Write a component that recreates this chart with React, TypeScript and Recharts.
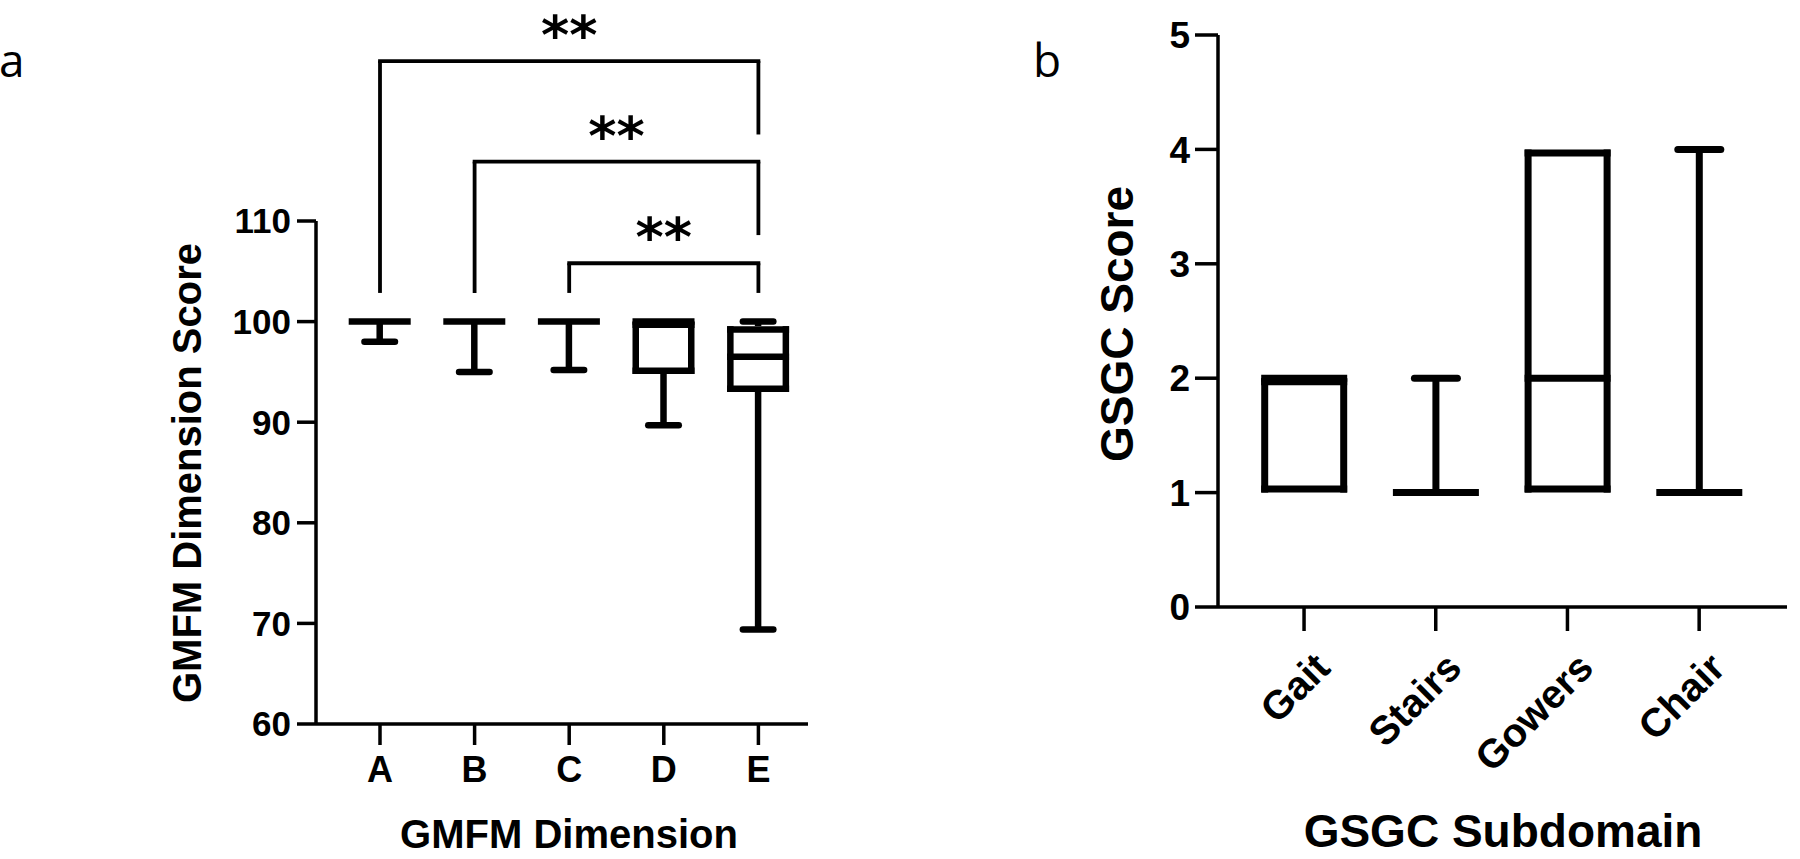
import React from 'react';
import { ComposedChart, Bar, XAxis, YAxis, ReferenceLine } from 'recharts';

// ---------- Panel a data (GMFM) ----------
const gmfmCategories = ['A', 'B', 'C', 'D', 'E'];
const gmfmMin = [98.0, 95.0, 95.2, 89.7, 69.4];
const gmfmQ1 = [100, 100, 100, 94.8, 93.0];
const gmfmMedian = [100, 100, 100, 100, 96.5];
const gmfmQ3 = [100, 100, 100, 100, 99.55];
const gmfmMax = [100, 100, 100, 100, 100];
const gmfmTicks = [60, 70, 80, 90, 100, 110];

// significance brackets (values in axis units)
const bracketFrom = ['A', 'B', 'C'];
const bracketTo = ['E', 'E', 'E'];
const bracketTop = [125.9, 115.9, 105.8];
const bracketLeftEnd = [102.85, 102.85, 102.85];
const bracketRightEnd = [118.6, 108.6, 102.85];
const bracketLabels = ['**', '**', '**'];

// ---------- Panel b data (GSGC) ----------
const gsgcCategories = ['Gait', 'Stairs', 'Gowers', 'Chair'];
const gsgcMin = [1, 1, 1, 1];
const gsgcQ1 = [1, 1, 1, 1];
const gsgcMedian = [2, 1, 2, 1];
const gsgcQ3 = [2, 1, 4, 1];
const gsgcMax = [2, 2, 4, 4];
const gsgcTicks = [0, 1, 2, 3, 4, 5];

function buildRows(cats: string[], min: number[], q1: number[], med: number[], q3: number[], max: number[]) {
  return cats.map((name, i) => ({
    name,
    min: min[i],
    q1: q1[i],
    median: med[i],
    q3: q3[i],
    max: max[i],
    base: min[i],
    lowWhisker: q1[i] - min[i],
    lowBox: med[i] - q1[i],
    highBox: q3[i] - med[i],
    highWhisker: max[i] - q3[i],
  }));
}

const gmfmRows = buildRows(gmfmCategories, gmfmMin, gmfmQ1, gmfmMedian, gmfmQ3, gmfmMax);
const gsgcRows = buildRows(gsgcCategories, gsgcMin, gsgcQ1, gsgcMedian, gsgcQ3, gsgcMax);

const FONT = "'Liberation Sans', Arial, Helvetica, sans-serif";

function norm(p: any) {
  const top = Math.min(p.y, p.y + p.height);
  const h = Math.abs(p.height || 0);
  const d = p.payload ?? p;
  return { x: p.x, w: p.width, top, h, d };
}

function makeBoxShapes(sw: number, capOuter: number) {
  const capHalf = (capOuter - sw) / 2;
  const common = { stroke: '#000', strokeWidth: sw, fill: 'none' };
  const empty = () => <g />;
  const lowWhisker = (p: any) => {
    const { x, w, top, h } = norm(p);
    if (!(h > 0)) return <g />;
    const cx = x + w / 2;
    const yb = top + h;
    return (
      <g>
        <line x1={cx} x2={cx} y1={top} y2={yb} {...common} />
        <line x1={cx - capHalf} x2={cx + capHalf} y1={yb} y2={yb} {...common} strokeLinecap="round" />
      </g>
    );
  };
  const highWhisker = (p: any) => {
    const { x, w, top, h } = norm(p);
    if (!(h > 0)) return <g />;
    const cx = x + w / 2;
    return (
      <g>
        <line x1={cx} x2={cx} y1={top} y2={top + h} {...common} />
        <line x1={cx - capHalf} x2={cx + capHalf} y1={top} y2={top} {...common} strokeLinecap="round" />
      </g>
    );
  };
  const lowBox = (p: any) => {
    const { x, w, top, h, d } = norm(p);
    if (d.q3 === d.q1) {
      return <line x1={x} x2={x + w} y1={top} y2={top} {...common} />;
    }
    const xl = x + sw / 2;
    const xr = x + w - sw / 2;
    return (
      <g>
        {h > 0 && <line x1={xl} x2={xl} y1={top} y2={top + h} {...common} />}
        {h > 0 && <line x1={xr} x2={xr} y1={top} y2={top + h} {...common} />}
        <line x1={x} x2={x + w} y1={top + h - sw / 2} y2={top + h - sw / 2} {...common} />
        <line x1={x} x2={x + w} y1={top} y2={top} {...common} />
      </g>
    );
  };
  const highBox = (p: any) => {
    const { x, w, top, h, d } = norm(p);
    if (d.q3 === d.q1) return <g />;
    const xl = x + sw / 2;
    const xr = x + w - sw / 2;
    return (
      <g>
        {h > 0 && <line x1={xl} x2={xl} y1={top} y2={top + h} {...common} />}
        {h > 0 && <line x1={xr} x2={xr} y1={top} y2={top + h} {...common} />}
        <line x1={x} x2={x + w} y1={top + sw / 2} y2={top + sw / 2} {...common} />
      </g>
    );
  };
  return { empty, lowWhisker, lowBox, highBox, highWhisker };
}

const shapesA = makeBoxShapes(6.5, 37);
const shapesB = makeBoxShapes(7, 50);

const asteriskLabel = (text: string) => (props: any) => {
  const vb = props.viewBox || {};
  const cx = vb.width != null ? vb.x + vb.width / 2 : ((vb.x1 ?? 0) + (vb.x2 ?? 0)) / 2;
  const yy = vb.y != null ? vb.y : vb.y1;
  return (
    <text x={cx} y={yy - 7} textAnchor="middle" fontFamily="'DejaVu Sans', sans-serif" fontWeight="bold" fontSize={54} fill="#000">
      {text}
    </text>
  );
};

const AngledTick = (props: any) => {
  const { x, y, payload } = props;
  const ax = x + 8;
  return (
    <text
      x={ax}
      y={y}
      transform={`rotate(-45, ${ax}, ${y})`}
      textAnchor="end"
      dy="0.71em"
      fontFamily={FONT}
      fontWeight="bold"
      fontSize={40}
      fill="#000"
    >
      {payload.value}
    </text>
  );
};

const axisStroke = { stroke: '#000', strokeWidth: 3.5 };

function renderBoxBars(shapes: any) {
  return [
    <Bar key="base" dataKey="base" stackId="box" isAnimationActive={false} shape={shapes.empty} />,
    <Bar key="lw" dataKey="lowWhisker" stackId="box" isAnimationActive={false} shape={shapes.lowWhisker} />,
    <Bar key="lb" dataKey="lowBox" stackId="box" isAnimationActive={false} shape={shapes.lowBox} />,
    <Bar key="hb" dataKey="highBox" stackId="box" isAnimationActive={false} shape={shapes.highBox} />,
    <Bar key="hw" dataKey="highWhisker" stackId="box" isAnimationActive={false} shape={shapes.highWhisker} />,
  ];
}

export default function App() {
  return (
    <div style={{ position: 'absolute', left: 0, top: 0, width: 1800, height: 859, background: '#fff', overflow: 'hidden' }}>
      {/* Panel a */}
      <div style={{ position: 'absolute', left: 0, top: 0 }}>
        <ComposedChart
          width={830}
          height={859}
          data={gmfmRows}
          margin={{ top: 221, right: 22, bottom: 0, left: 0 }}
          barSize={62}
          style={{ overflow: 'visible' }}
        >
          <XAxis
            dataKey="name"
            type="category"
            height={135}
            padding={{ left: 16.7, right: 2.3 }}
            axisLine={axisStroke}
            tickLine={axisStroke}
            tickSize={21}
            tickMargin={11}
            tick={{ fill: '#000', fontSize: 36, fontWeight: 700, fontFamily: FONT }}
            interval={0}
          />
          <YAxis
            type="number"
            width={316}
            domain={[60, 110]}
            ticks={gmfmTicks}
            allowDataOverflow
            axisLine={axisStroke}
            tickLine={axisStroke}
            tickSize={19}
            tickMargin={6}
            tick={{ fill: '#000', fontSize: 35, fontWeight: 700, fontFamily: FONT }}
            interval={0}
          />
          {renderBoxBars(shapesA)}
          {bracketFrom.map((from, i) => (
            <ReferenceLine
              key={`bh${i}`}
              segment={[{ x: from, y: bracketTop[i] }, { x: bracketTo[i], y: bracketTop[i] }]}
              ifOverflow="visible"
              stroke="#000"
              strokeWidth={3.8}
              strokeLinecap="square"
              label={asteriskLabel(bracketLabels[i])}
            />
          ))}
          {bracketFrom.map((from, i) => (
            <ReferenceLine
              key={`bl${i}`}
              segment={[{ x: from, y: bracketTop[i] }, { x: from, y: bracketLeftEnd[i] }]}
              ifOverflow="visible"
              stroke="#000"
              strokeWidth={3.8}
            />
          ))}
          {bracketTo.map((to, i) => (
            <ReferenceLine
              key={`br${i}`}
              segment={[{ x: to, y: bracketTop[i] }, { x: to, y: bracketRightEnd[i] }]}
              ifOverflow="visible"
              stroke="#000"
              strokeWidth={3.8}
            />
          ))}
        </ComposedChart>
      </div>

      {/* Panel b */}
      <div style={{ position: 'absolute', left: 900, top: 0 }}>
        <ComposedChart
          width={900}
          height={859}
          data={gsgcRows}
          margin={{ top: 35, right: 13, bottom: 0, left: 0 }}
          barSize={86}
          style={{ overflow: 'visible' }}
        >
          <XAxis
            dataKey="name"
            type="category"
            height={252}
            padding={{ left: 20.2, right: 22 }}
            axisLine={axisStroke}
            tickLine={axisStroke}
            tickSize={24}
            tickMargin={19}
            tick={<AngledTick />}
            interval={0}
          />
          <YAxis
            type="number"
            width={318}
            domain={[0, 5]}
            ticks={gsgcTicks}
            allowDataOverflow
            axisLine={axisStroke}
            tickLine={axisStroke}
            tickSize={23}
            tickMargin={5}
            tick={{ fill: '#000', fontSize: 37, fontWeight: 700, fontFamily: FONT }}
            interval={0}
          />
          {renderBoxBars(shapesB)}
        </ComposedChart>
      </div>

      {/* Titles and panel letters */}
      <svg width={1800} height={859} style={{ position: 'absolute', left: 0, top: 0, pointerEvents: 'none' }}>
        <text x={-1} y={77} fontFamily="'Open Sans', sans-serif" fontSize={46} fill="#000">a</text>
        <text x={1033} y={77} fontFamily="'Open Sans', sans-serif" fontSize={46} fill="#000">b</text>
        <text transform="translate(201,473) rotate(-90)" textAnchor="middle" fontFamily={FONT} fontWeight="bold" fontSize={40} fill="#000">
          GMFM Dimension Score
        </text>
        <text x={569} y={848} textAnchor="middle" fontFamily={FONT} fontWeight="bold" fontSize={40} fill="#000">
          GMFM Dimension
        </text>
        <text transform="translate(1133,324) rotate(-90)" textAnchor="middle" fontFamily={FONT} fontWeight="bold" fontSize={46} fill="#000">
          GSGC Score
        </text>
        <text x={1503} y={847} textAnchor="middle" fontFamily={FONT} fontWeight="bold" fontSize={46} fill="#000">
          GSGC Subdomain
        </text>
      </svg>
    </div>
  );
}
